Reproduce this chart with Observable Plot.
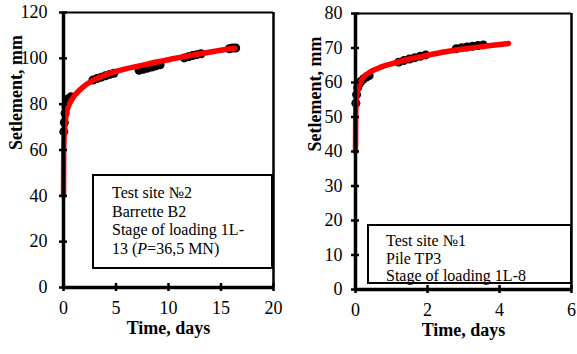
<!DOCTYPE html>
<html><head><meta charset="utf-8">
<script src="https://cdn.jsdelivr.net/npm/d3@7"></script>
<script src="https://cdn.jsdelivr.net/npm/@observablehq/plot@0.6"></script>
<style>
body{margin:0;background:#fff;}
#chart{position:relative;width:577px;height:354px;font-family:"Liberation Serif","Times New Roman",serif;overflow:hidden;}
#chart svg, #chart svg text{font-family:"Liberation Serif","Times New Roman",serif !important;font-variant:normal !important;}
.panel{position:absolute;top:0;}
.note{position:absolute;border:2px solid #000;background:#fff;box-sizing:border-box;font-size:16px;color:#000;white-space:nowrap;}
</style></head><body><div id="chart"></div>
<script>
// ---- Left panel: Test site №2, Barrette B2 ----
const xDomainL = [0, 20];
const yDomainL = [0, 120];
const xTicksL = [0, 5, 10, 15, 20];
const yTicksL = [0, 20, 40, 60, 80, 100, 120];
const measTimeL   = [0.03,0.08,0.15,0.25,0.35,0.5,0.7, 2.8,3.2,3.6,4.0,4.4,4.8, 7.2,7.6,8.0,8.4,8.8,9.2, 11.5,11.9,12.3,12.7,13.1, 15.8,16.1,16.4];
const measSettleL = [68,72,76,79,81,82.5,83.2, 90.5,91.2,91.8,92.4,93,93.5, 94.8,95.2,95.7,96.2,96.7,97.2, 100.2,100.7,101.2,101.6,102, 104.2,104.5,104.5];
const fitTimeL   = [0,0.02,0.05,0.1,0.2,0.35,0.6,1,1.5,2,3,4,5,6,7,8,9,10,12,14,16.3];
const fitSettleL = [40,58,65,69.5,74,77.5,80.5,83.5,86,88,90.8,92.8,94.3,95.5,96.5,97.5,98.5,99.4,101.2,102.8,104.4];
const noteL = ["Test site №2", "Barrette  B2", "Stage of loading 1L-", "13 (<i>P</i>=36,5 MN)"];

// ---- Right panel: Test site №1, Pile TP3 ----
const xDomainR = [0, 6];
const yDomainR = [0, 80];
const xTicksR = [0, 2, 4, 6];
const yTicksR = [0, 10, 20, 30, 40, 50, 60, 70, 80];
const measTimeR   = [0.01,0.03,0.06,0.1,0.15,0.22,0.3,0.38, 1.2,1.35,1.5,1.65,1.8,1.95, 2.8,2.95,3.1,3.25,3.4,3.55];
const measSettleR = [54,56.5,58.5,59.5,60.3,61,61.6,62, 65.9,66.4,66.8,67.2,67.6,68, 69.8,70.1,70.3,70.5,70.7,70.9];
const fitTimeR   = [0,0.005,0.015,0.04,0.08,0.15,0.25,0.4,0.6,0.8,1,1.5,2,2.5,3,3.5,4.25];
const fitSettleR = [40,50,54,56.5,58.5,60.3,61.8,63,64,64.8,65.4,66.8,67.9,68.9,69.7,70.4,71.3];
const noteR = ["Test site №1", "Pile TP3", "Stage of loading 1L-8"];

const xTitle = "Time, days";
const yTitle = "Setlement, mm";

const pts = (xs, ys) => xs.map((x, i) => ({t: x, s: ys[i]}));

function panel({width, marginLeft, marginRight, marginTop, marginBottom, xDomain, yDomain, xTicks, yTicks, meas, fit, yPad, yTitleDx}) {
  return Plot.plot({
    width, height: 354, marginLeft, marginRight, marginTop, marginBottom,
    style: {fontFamily: "Liberation Serif, serif", fontSize: "18px", color: "black", background: "transparent", overflow: "visible"},
    x: {domain: xDomain},
    y: {domain: yDomain},
    marks: [
      Plot.ruleY([yDomain[1]], {stroke: "black", strokeWidth: 2}),
      Plot.ruleX([xDomain[1]], {stroke: "black", strokeWidth: 2.5}),
      Plot.dot(meas, {x: "t", y: "s", r: 4.5, fill: "black", stroke: "none"}),
      Plot.line(fit, {x: "t", y: "s", stroke: "#ff0000", strokeWidth: 5.5, curve: "monotone-x"}),
      Plot.ruleX([xDomain[0]], {stroke: "black", strokeWidth: 3.5}),
      Plot.ruleY([yDomain[0]], {stroke: "black", strokeWidth: 3.5}),
      Plot.axisX({ticks: xTicks, tickSize: 8, dy: -4, tickPadding: 10, label: null, strokeWidth: 2.5, tickFormat: d => String(d)}),
      Plot.axisY({ticks: yTicks, tickSize: 8, dx: 4, tickPadding: yPad, label: null, strokeWidth: 2.5, tickFormat: d => String(d)}),
      Plot.text([xTitle], {text: d => d, frameAnchor: "bottom", dy: 46, fontWeight: "bold", fontSize: 18}),
      Plot.text([yTitle], {text: d => d, frameAnchor: "left", dx: yTitleDx, rotate: -90, fontWeight: "bold", fontSize: 18})
    ]
  });
}

const chart = document.getElementById("chart");

const left = panel({width: 290, marginLeft: 63, marginRight: 17, marginTop: 12, marginBottom: 67,
  xDomain: xDomainL, yDomain: yDomainL, xTicks: xTicksL, yTicks: yTicksL,
  meas: pts(measTimeL, measSettleL), fit: pts(fitTimeL, fitSettleL), yPad: 12, yTitleDx: -47});
left.classList.add("panel"); left.style.left = "0px";
chart.appendChild(left);

const right = panel({width: 287, marginLeft: 65, marginRight: 6, marginTop: 13, marginBottom: 65,
  xDomain: xDomainR, yDomain: yDomainR, xTicks: xTicksR, yTicks: yTicksR,
  meas: pts(measTimeR, measSettleR), fit: pts(fitTimeR, fitSettleR), yPad: 9, yTitleDx: -40});
right.classList.add("panel"); right.style.left = "290px";
chart.appendChild(right);

function note(lines, css) {
  const d = document.createElement("div");
  d.className = "note";
  Object.assign(d.style, css);
  d.innerHTML = lines.join("<br>");
  chart.appendChild(d);
}
note(noteL, {left: "92px", top: "174px", width: "181px", height: "95px", paddingLeft: "18px", paddingTop: "8px", lineHeight: "18.5px"});
note(noteR, {left: "367px", top: "224px", width: "205px", height: "60px", paddingLeft: "17px", paddingTop: "6px", lineHeight: "17.5px"});
</script>
</body></html>
